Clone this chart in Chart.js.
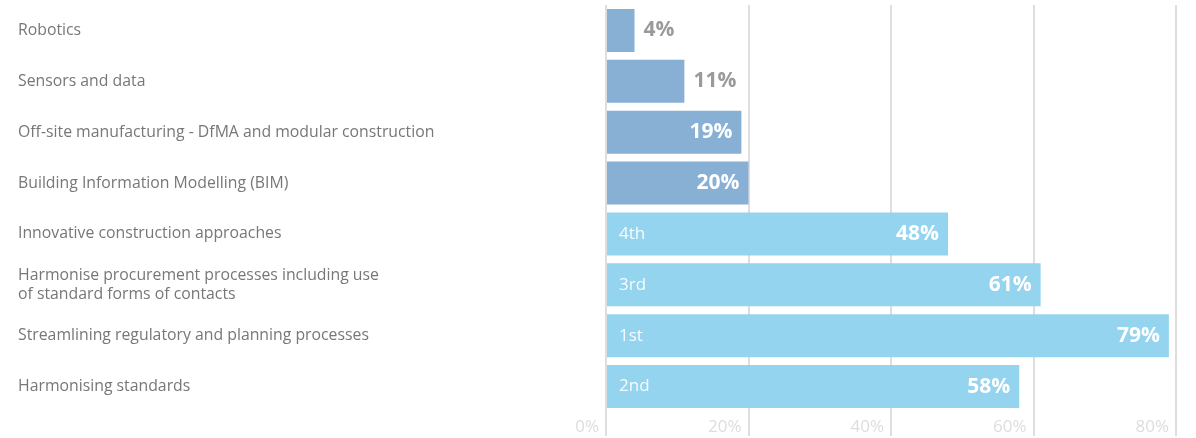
<!DOCTYPE html>
<html>
<head>
<meta charset="utf-8">
<script src="https://cdn.jsdelivr.net/npm/chart.js@4/dist/chart.umd.min.js"></script>
<style>
  html, body { margin: 0; padding: 0; background: #ffffff; }
  #wrap { width: 1196px; height: 438px; }
</style>
</head>
<body>
<div id="wrap"><canvas id="chart" width="1196" height="438"></canvas></div>
<script>
// Survey categories (top to bottom)
const categories = [
  'Robotics',
  'Sensors and data',
  'Off-site manufacturing - DfMA and modular construction',
  'Building Information Modelling (BIM)',
  'Innovative construction approaches',
  ['Harmonise procurement processes including use', 'of standard forms of contacts'],
  'Streamlining regulatory and planning processes',
  'Harmonising standards'
];

// Share of respondents (%)
const shares = [4, 11, 19, 20, 48, 61, 79, 58];

// Priority ranking shown inside the bar (blank where not ranked)
const ranks = ['', '', '', '', '4th', '3rd', '1st', '2nd'];

// Axis ticks
const xTicks = [0, 20, 40, 60, 80];

const techColor = '#88b0d5';
const policyColor = '#94d4ef';
const barColors = shares.map((v, i) => i < 4 ? techColor : policyColor);

const FONT = "'Open Sans', 'Noto Sans', sans-serif";

// Value labels at the bar end and rank labels at the bar start
const barLabels = {
  id: 'barLabels',
  afterDatasetsDraw(chart) {
    const ctx = chart.ctx;
    const meta = chart.getDatasetMeta(0);
    ctx.save();
    ctx.textBaseline = 'middle';
    meta.data.forEach((bar, i) => {
      const v = shares[i];
      const txt = v + '%';
      ctx.font = `bold 21px ${FONT}`;
      if (v < 15) {
        ctx.fillStyle = '#9a9a9a';
        ctx.textAlign = 'left';
        ctx.fillText(txt, bar.x + 9, bar.y);
      } else {
        ctx.fillStyle = '#ffffff';
        ctx.textAlign = 'right';
        ctx.fillText(txt, bar.x - 9, bar.y);
      }
      if (ranks[i]) {
        ctx.font = `17px ${FONT}`;
        ctx.fillStyle = 'rgba(255,255,255,0.92)';
        ctx.textAlign = 'left';
        ctx.fillText(ranks[i], bar.base + 12, bar.y);
      }
    });
    ctx.restore();
  }
};

new Chart(document.getElementById('chart'), {
  type: 'bar',
  data: {
    labels: categories,
    datasets: [{
      data: shares,
      backgroundColor: barColors,
      borderWidth: 0,
      barPercentage: 0.845,
      categoryPercentage: 1.0
    }]
  },
  options: {
    indexAxis: 'y',
    responsive: false,
    animation: false,
    layout: { padding: { left: 18, right: 20, top: 5, bottom: 0 } },
    plugins: {
      legend: { display: false },
      tooltip: { enabled: false }
    },
    scales: {
      x: {
        min: 0,
        max: 80,
        afterBuildTicks(scale) {
          scale.ticks = xTicks.map(v => ({ value: v }));
        },
        afterFit(scale) { scale.height = 26; },
        border: { display: false },
        grid: {
          color: '#dedede',
          lineWidth: 2,
          drawTicks: true,
          tickLength: 24,
          tickColor: '#dedede',
          tickWidth: 2
        },
        ticks: {
          callback: v => v + '%',
          align: 'end',
          labelOffset: -7,
          padding: -19,
          color: '#dddddd',
          font: { family: FONT, size: 17 }
        }
      },
      y: {
        border: { display: false },
        grid: { display: false, drawTicks: false },
        afterFit(scale) {
          scale.width = 588;
          scale.paddingTop = 0;
          scale.paddingBottom = 0;
        },
        ticks: {
          crossAlign: 'far',
          padding: 0,
          color: '#777777',
          font: { family: FONT, size: 15.8 }
        }
      }
    }
  },
  plugins: [barLabels]
});
</script>
</body>
</html>
